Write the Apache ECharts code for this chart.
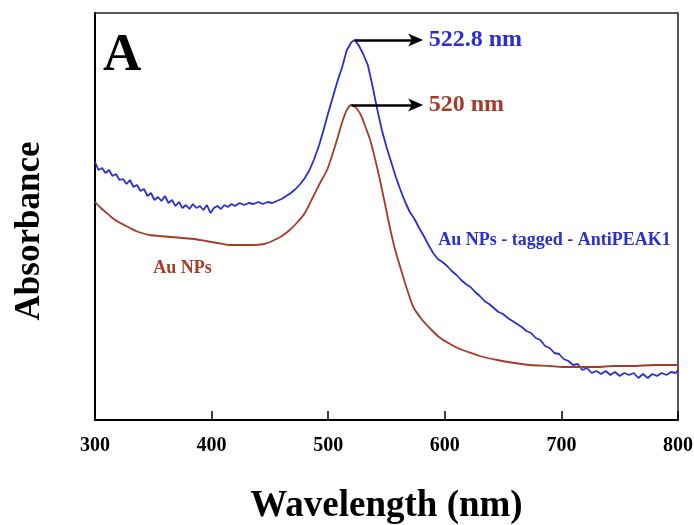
<!DOCTYPE html>
<html>
<head>
<meta charset="utf-8">
<script src="https://cdn.jsdelivr.net/npm/echarts@6/dist/echarts.min.js"></script>
<style>
  html, body { margin: 0; padding: 0; background: #fff; }
  #chart { width: 694px; height: 525px; }
</style>
</head>
<body>
<div id="chart"></div>
<script>
var xTicks = [300, 400, 500, 600, 700, 800];

// Au NPs - tagged - AntiPEAK1 (blue), [wavelength nm, absorbance a.u.]
var taggedData = [
	[300, 2.58], [303, 2.50], [306, 2.52], [309, 2.47], [312, 2.50], [315, 2.44], [318, 2.46], [321, 2.40],
	[324, 2.41], [327, 2.36], [330, 2.40], [333, 2.33], [336, 2.35], [339, 2.29], [342, 2.31], [345, 2.24],
	[348, 2.27], [351, 2.20], [354, 2.23], [357, 2.19], [360, 2.24], [363, 2.17], [366, 2.20], [369, 2.14],
	[372, 2.18], [375, 2.12], [378, 2.15], [381, 2.11], [384, 2.16], [387, 2.12], [390, 2.14], [393, 2.10],
	[396, 2.15], [399, 2.07], [402, 2.12], [405, 2.14], [408, 2.11], [411, 2.15], [414, 2.13], [417, 2.16],
	[420, 2.14], [424, 2.17], [428, 2.15], [432, 2.17], [436, 2.16], [440, 2.18], [444, 2.16], [448, 2.18],
	[452, 2.17], [456, 2.19], [460, 2.21], [464, 2.24], [468, 2.27], [472, 2.31], [476, 2.36], [480, 2.42],
	[484, 2.50], [488, 2.61], [492, 2.74], [496, 2.90], [500, 3.07], [504, 3.23], [508, 3.39], [512, 3.53],
	[516, 3.70], [520, 3.78], [522.8, 3.80], [526, 3.75], [530, 3.66], [534, 3.55], [538, 3.34], [542, 3.11],
	[546, 2.90], [550, 2.73], [554, 2.58], [558, 2.43], [562, 2.30], [566, 2.18], [570, 2.08], [574, 2.01],
	[578, 1.92], [582, 1.84], [586, 1.75], [590, 1.67], [594, 1.61], [598, 1.58], [602, 1.54], [606, 1.49],
	[610, 1.45], [614, 1.40], [618, 1.36], [622, 1.33], [626, 1.28], [630, 1.24], [634, 1.19], [638, 1.16],
	[642, 1.12], [646, 1.08], [650, 1.06], [654, 1.02], [658, 0.99], [662, 0.96], [666, 0.93], [670, 0.89],
	[674, 0.87], [678, 0.82], [682, 0.80], [686, 0.74], [690, 0.72], [694, 0.67], [698, 0.66], [702, 0.61],
	[706, 0.59], [710, 0.55], [714, 0.56], [718, 0.50], [722, 0.52], [726, 0.47], [730, 0.49], [734, 0.46],
	[738, 0.49], [742, 0.45], [746, 0.48], [750, 0.44], [754, 0.47], [758, 0.45], [762, 0.47], [766, 0.42],
	[770, 0.46], [774, 0.42], [778, 0.46], [782, 0.44], [786, 0.47], [790, 0.45], [794, 0.48], [798, 0.47],
	[800, 0.50]
];

// Au NPs (red)
var auData = [
	[300, 2.18], [305, 2.12], [310, 2.07], [315, 2.02], [320, 1.98], [325, 1.95], [330, 1.92], [335, 1.89],
	[340, 1.87], [347, 1.85], [355, 1.84], [365, 1.83], [375, 1.82], [385, 1.81], [395, 1.79], [405, 1.77],
	[415, 1.75], [425, 1.75], [435, 1.75], [445, 1.76], [452, 1.79], [459, 1.83], [466, 1.89], [473, 1.97],
	[480, 2.07], [487, 2.23], [493, 2.37], [499, 2.50], [504, 2.67], [508, 2.82], [512, 2.98], [516, 3.10],
	[520, 3.15], [524, 3.12], [528, 3.05], [532, 2.93], [536, 2.80], [540, 2.62], [544, 2.42], [548, 2.20],
	[553, 1.92], [557, 1.72], [562, 1.52], [567, 1.33], [573, 1.13], [580, 1.01], [587, 0.92], [595, 0.83],
	[603, 0.77], [611, 0.72], [620, 0.68], [630, 0.64], [645, 0.60], [660, 0.57], [673, 0.55], [690, 0.54],
	[701, 0.53], [715, 0.53], [730, 0.53], [745, 0.54], [760, 0.54], [780, 0.55], [800, 0.55]
];

// peak annotations: [peak nm, peak absorbance, arrow end nm, text]
var taggedPeak = [522.8, 3.80, 575, '522.8 nm'];
var auPeak = [520, 3.15, 575, '520 nm'];

// series name labels: [nm, absorbance]
var taggedNamePos = [694, 1.80];
var auNamePos = [375, 1.52];

var blue = '#2a2fd4';
var red = '#a63a2b';
var serif = '"Liberation Serif", "DejaVu Serif", serif';

function peakArrow(p, color) {
	return {
		silent: true,
		symbol: ['none', 'path://M6,0 L12,12 L6,9 L0,12 Z'],
		symbolSize: [13, 15],
		lineStyle: { color: '#000', width: 2.5, type: 'solid' },
		label: {
			show: true,
			position: 'end',
			distance: 13,
			formatter: p[3],
			color: color,
			fontFamily: serif,
			fontWeight: 'bold',
			fontSize: 24
		},
		data: [[{ coord: [p[0], p[1]] }, { coord: [p[2], p[1]] }]]
	};
}

function nameLabel(pos, text, color, size) {
	return {
		silent: true,
		symbol: 'circle',
		symbolSize: 0,
		label: {
			show: true,
			position: 'inside',
			formatter: text,
			color: color,
			fontFamily: serif,
			fontWeight: 'bold',
			fontSize: size
		},
		data: [{ coord: pos }]
	};
}

var option = {
	animation: false,
	backgroundColor: '#fff',
	grid: {
		left: 95, right: 16, top: 13, bottom: 105,
		outerBoundsMode: 'none',
		show: true, borderColor: '#222', borderWidth: 1.5
	},
	xAxis: {
		type: 'value',
		min: 300, max: 800, interval: 100,
		name: 'Wavelength (nm)',
		nameLocation: 'middle',
		nameGap: 68,
		nameTextStyle: { fontFamily: serif, fontWeight: 'bold', fontSize: 37, color: '#000' },
		axisLine: { show: true, lineStyle: { color: '#000', width: 2 } },
		axisTick: { show: true, inside: true, length: 9, lineStyle: { color: '#000', width: 1.5 } },
		axisLabel: {
			margin: 16, color: '#000', fontFamily: serif, fontWeight: 'bold', fontSize: 20,
			formatter: function(v) { return xTicks.indexOf(v) >= 0 ? String(v) : ''; }
		},
		splitLine: { show: false }
	},
	yAxis: {
		type: 'value',
		min: 0, max: 4.07,
		axisLine: { show: true, lineStyle: { color: '#000', width: 2 } },
		axisTick: { show: false },
		axisLabel: { show: false },
		splitLine: { show: false }
	},
	graphic: [{
		type: 'text',
		left: 103, top: 30,
		style: { text: 'A', fill: '#000', font: 'bold 53px ' + serif }
	}, {
		type: 'text',
		x: 30, y: 231,
		rotation: Math.PI / 2,
		style: {
			text: 'Absorbance', fill: '#000', font: 'bold 35px ' + serif,
			align: 'center', verticalAlign: 'middle'
		}
	}],
	series: [{
		name: 'Au NPs - tagged - AntiPEAK1',
		type: 'line',
		data: taggedData,
		showSymbol: false,
		lineStyle: { color: blue, width: 1.8 },
		itemStyle: { color: blue },
		markLine: peakArrow(taggedPeak, blue),
		markPoint: nameLabel(taggedNamePos, 'Au NPs - tagged - AntiPEAK1', blue, 18)
	}, {
		name: 'Au NPs',
		type: 'line',
		data: auData,
		showSymbol: false,
		smooth: 0.25,
		lineStyle: { color: red, width: 1.8 },
		itemStyle: { color: red },
		markLine: peakArrow(auPeak, red),
		markPoint: nameLabel(auNamePos, 'Au NPs', red, 18)
	}]
};

var chart = echarts.init(document.getElementById('chart'));
chart.setOption(option);
</script>
</body>
</html>
